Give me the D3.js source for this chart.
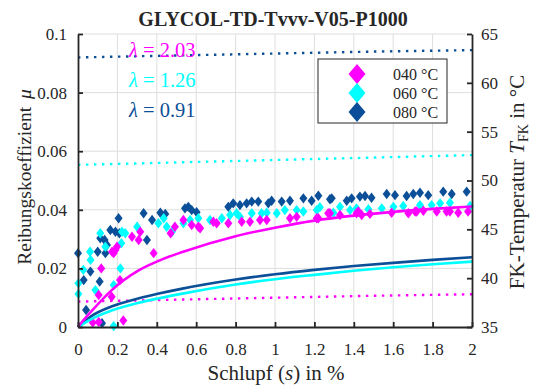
<!DOCTYPE html>
<html>
<head>
<meta charset="utf-8">
<script src="https://cdn.jsdelivr.net/npm/d3@7"></script>
<style>
  body { margin: 0; background: #fff; }
  text { font-family: "Liberation Serif", "Times New Roman", serif; fill: #262626; }
</style>
</head>
<body>
<svg id="chart" width="533" height="388"></svg>
<script>
// ---- axis ticks ----
const slipTicks = [0, 0.2, 0.4, 0.6, 0.8, 1, 1.2, 1.4, 1.6, 1.8, 2];
const muTicks = [0, 0.02, 0.04, 0.06, 0.08, 0.1];
const tempTicks = [35, 40, 45, 50, 55, 60, 65];

// ---- measured friction coefficients (slip in %, mu) ----
const slip040 = [0.075, 0.105, 0.105, 0.118, 0.171, 0.173, 0.181, 0.190, 0.198, 0.213, 0.230, 0.274, 0.308, 0.316, 0.384,
  0.470, 0.492, 0.535, 0.577, 0.611, 0.620, 0.687, 0.704, 0.763, 0.831, 0.873, 0.924, 0.958, 1.076, 1.110,
  1.212, 1.220, 1.270, 1.279, 1.330, 1.414, 1.423, 1.440, 1.482, 1.592, 1.677, 1.711, 1.719, 1.753, 1.821,
  1.871, 1.888, 1.930, 1.980];
const mu040 = [0.0015, 0.0017, 0.0109, 0.0200, 0.0103, 0.0257, 0.0252, 0.0263, 0.0274, 0.0160, 0.0022, 0.0308, 0.0297, 0.0325, 0.0252,
  0.0320, 0.0342, 0.0365, 0.0348, 0.0342, 0.0337, 0.0359, 0.0354, 0.0354, 0.0359, 0.0359, 0.0365, 0.0365, 0.0371, 0.0376,
  0.0371, 0.0371, 0.0388, 0.0388, 0.0382, 0.0388, 0.0394, 0.0382, 0.0386, 0.0390, 0.0388, 0.0394, 0.0394, 0.0397, 0.0394,
  0.0394, 0.0394, 0.0390, 0.0394];

const slip060 = [0.002, 0.002, 0.027, 0.061, 0.064, 0.088, 0.113, 0.139, 0.181, 0.181, 0.215, 0.220, 0.223, 0.240, 0.300,
  0.408, 0.435, 0.450, 0.477, 0.535, 0.569, 0.611, 0.670, 0.730, 0.772, 0.805, 0.822, 0.882, 0.932, 0.958,
  1.009, 1.050, 1.110, 1.144, 1.212, 1.228, 1.296, 1.330, 1.381, 1.414, 1.474, 1.542, 1.601, 1.651, 1.736,
  1.795, 1.838, 1.888, 1.990];
const mu060 = [0.0149, 0.0113, 0.0195, 0.0257, 0.0229, 0.0126, 0.0320, 0.0274, 0.0143, 0.0003, 0.0200, 0.0286, 0.0325, 0.0320, 0.0342,
  0.0354, 0.0371, 0.0342, 0.0325, 0.0354, 0.0365, 0.0371, 0.0365, 0.0371, 0.0382, 0.0388, 0.0376, 0.0388, 0.0388, 0.0390,
  0.0388, 0.0399, 0.0399, 0.0394, 0.0399, 0.0409, 0.0390, 0.0410, 0.0399, 0.0405, 0.0402, 0.0405, 0.0410, 0.0413, 0.0416,
  0.0416, 0.0422, 0.0424, 0.0413];

const slip080 = [0.000, 0.029, 0.041, 0.063, 0.100, 0.110, 0.113, 0.122, 0.135, 0.139, 0.147, 0.164, 0.190, 0.206, 0.210,
  0.333, 0.350, 0.376, 0.418, 0.443, 0.543, 0.560, 0.577, 0.602, 0.763, 0.788, 0.822, 0.856, 0.882, 0.915,
  0.966, 0.983, 1.034, 1.076, 1.144, 1.186, 1.220, 1.279, 1.288, 1.364, 1.389, 1.431, 1.457, 1.490, 1.567,
  1.609, 1.668, 1.702, 1.736, 1.778, 1.854, 1.897, 1.973];
const mu080 = [0.0252, 0.0160, 0.0058, 0.0189, 0.0257, 0.0155, 0.0303, 0.0013, 0.0297, 0.0252, 0.0280, 0.0331, 0.0325, 0.0371, 0.0320,
  0.0388, 0.0297, 0.0365, 0.0390, 0.0386, 0.0405, 0.0410, 0.0399, 0.0392, 0.0410, 0.0422, 0.0416, 0.0422, 0.0428, 0.0428,
  0.0422, 0.0431, 0.0428, 0.0431, 0.0439, 0.0431, 0.0448, 0.0436, 0.0439, 0.0431, 0.0439, 0.0445, 0.0447, 0.0441, 0.0454,
  0.0450, 0.0447, 0.0454, 0.0458, 0.0450, 0.0462, 0.0454, 0.0462];

// ---- fitted friction curves ----
const fitSlip = [0, 0.02, 0.07, 0.17, 0.31, 0.41, 0.53, 0.8, 1.0, 1.2, 1.4, 1.6, 1.8, 2.0];
const fit040 = [0, 0.0017, 0.0055, 0.0125, 0.0194, 0.0226, 0.0256, 0.0310, 0.0339, 0.0363, 0.0380, 0.0393, 0.0403, 0.0411];
const fit060 = [0, 0.0008, 0.0028, 0.0056, 0.0083, 0.0098, 0.0114, 0.0145, 0.0163, 0.0178, 0.0192, 0.0204, 0.0214, 0.0223];
const fit080 = [0, 0.0012, 0.0038, 0.0070, 0.0098, 0.0114, 0.0131, 0.0162, 0.0180, 0.0195, 0.0208, 0.0219, 0.0229, 0.0238];

// ---- fluid temperature (right axis, °C) ----
const tempSlip = [0, 0.5, 1.0, 1.5, 2.0];
const temp040 = [37.6, 37.8, 38.0, 38.2, 38.35];
const temp060 = [51.6, 51.85, 52.1, 52.35, 52.6];
const temp080 = [62.6, 62.8, 63.0, 63.2, 63.35];

// ---- series labels ----
const seriesNames = ["040 °C", "060 °C", "080 °C"];
const lambdaValues = ["2.03", "1.26", "0.91"];
const colors = ["#ff00ff", "#00ffff", "#0b4f98"];

const svg = d3.select("#chart");
const L = 78, R = 472, T = 34, B = 327;

const x = d3.scaleLinear().domain([0, 2]).range([L, R]);
const y = d3.scaleLinear().domain([0, 0.1]).range([B, T]);
const yT = d3.scaleLinear().domain([35, 65]).range([B, T]);

// grid
const grid = svg.append("g").attr("stroke", "#dedede").attr("stroke-width", 1);
grid.selectAll("line.v").data(slipTicks.slice(1, -1)).join("line")
  .attr("x1", d => x(d)).attr("x2", d => x(d)).attr("y1", T).attr("y2", B);
grid.selectAll("line.h").data(muTicks.slice(1)).join("line")
  .attr("x1", L).attr("x2", R).attr("y1", d => y(d)).attr("y2", d => y(d));

// dotted temperature lines
const tempSeries = [temp040, temp060, temp080];
const tLine = d3.line().x(d => x(d[0])).y(d => yT(d[1]));
tempSeries.forEach((ts, i) => {
  svg.append("path")
    .datum(tempSlip.map((s, j) => [s, ts[j]]))
    .attr("d", tLine)
    .attr("fill", "none")
    .attr("stroke", colors[i])
    .attr("stroke-width", 2.4)
    .attr("stroke-dasharray", "2.4,5.6");
});

// scatter diamonds
const diamond = (w, h) => `M0,${-h}L${w},0L0,${h}L${-w},0Z`;
const scatter = [[slip080, mu080, 2], [slip060, mu060, 1], [slip040, mu040, 0]];
scatter.forEach(([xs, ys, ci]) => {
  svg.append("g").selectAll("path")
    .data(xs.map((s, j) => [s, ys[j]]))
    .join("path")
    .attr("transform", d => `translate(${x(d[0])},${y(d[1])})`)
    .attr("d", diamond(4, 5.2))
    .attr("fill", colors[ci]);
});

// fitted curves
const fits = [fit080, fit060, fit040];
const fitColors = [colors[2], colors[1], colors[0]];
const fLine = d3.line().x(d => x(d[0])).y(d => y(d[1])).curve(d3.curveMonotoneX);
fits.forEach((f, i) => {
  svg.append("path")
    .datum(fitSlip.map((s, j) => [s, f[j]]))
    .attr("d", fLine)
    .attr("fill", "none")
    .attr("stroke", fitColors[i])
    .attr("stroke-width", 2.6);
});

// axes
const axisStyle = g => {
  g.select(".domain").attr("stroke", "#262626").attr("stroke-width", 1.8);
  g.selectAll(".tick line").attr("stroke", "#262626").attr("stroke-width", 1.8);
  g.selectAll(".tick text").attr("font-family", "Liberation Serif, serif")
    .attr("font-size", 17).attr("fill", "#262626");
};
svg.append("g").attr("transform", `translate(0,${B})`)
  .call(d3.axisBottom(x).tickValues(slipTicks).tickFormat(d3.format("~g"))
    .tickSize(-5).tickSizeOuter(0).tickPadding(16))
  .call(axisStyle);
svg.append("g").attr("transform", `translate(${L},0)`)
  .call(d3.axisLeft(y).tickValues(muTicks).tickFormat(d3.format("~g"))
    .tickSize(-5).tickSizeOuter(0).tickPadding(11))
  .call(axisStyle);
svg.append("g").attr("transform", `translate(${R},0)`)
  .call(d3.axisRight(yT).tickValues(tempTicks)
    .tickSize(-5).tickSizeOuter(0).tickPadding(9))
  .call(axisStyle);

// title
svg.append("text").attr("x", 273).attr("y", 26).attr("text-anchor", "middle")
  .attr("font-size", 20).attr("font-weight", "bold").attr("fill", "#000")
  .text("GLYCOL-TD-Tvvv-V05-P1000");

// axis labels
svg.append("text").attr("x", 276).attr("y", 380).attr("text-anchor", "middle")
  .attr("font-size", 21)
  .call(t => {
    t.append("tspan").text("Schlupf (");
    t.append("tspan").attr("font-style", "italic").text("s");
    t.append("tspan").text(") in %");
  });
svg.append("text").attr("transform", "translate(31,177) rotate(-90)")
  .attr("text-anchor", "middle").attr("font-size", 19.5)
  .call(t => {
    t.append("tspan").text("Reibungskoeffizient ");
    t.append("tspan").attr("dx", 3).attr("font-style", "italic").text("μ");
  });
svg.append("text").attr("transform", "translate(524,182) rotate(-90)")
  .attr("text-anchor", "middle").attr("font-size", 21)
  .call(t => {
    t.append("tspan").text("FK-Temperatur ");
    t.append("tspan").attr("font-style", "italic").text("T");
    t.append("tspan").attr("dy", 4).attr("font-size", 14).text("FK");
    t.append("tspan").attr("dy", -4).text(" in °C");
  });

// lambda annotations
const lamY = [57, 87, 117];
lambdaValues.forEach((v, i) => {
  svg.append("text").attr("x", 129).attr("y", lamY[i])
    .attr("font-family", "Liberation Sans, Arial, sans-serif")
    .attr("font-size", 20.5).style("fill", colors[i])
    .call(t => {
      t.append("tspan").attr("font-style", "italic").text("λ");
      t.append("tspan").text(" = " + v);
    });
});

// legend
const lg = svg.append("g");
lg.append("rect").attr("x", 318).attr("y", 59).attr("width", 129).attr("height", 64)
  .attr("fill", "#fff").attr("stroke", "#262626").attr("stroke-width", 1);
const legY = [74, 93, 112];
seriesNames.forEach((name, i) => {
  lg.append("path").attr("transform", `translate(357,${legY[i]})`)
    .attr("d", diamond(8.5, 10)).attr("fill", colors[i]);
  lg.append("text").attr("x", 393).attr("y", legY[i] + 5.5)
    .attr("font-size", 16).text(name);
});
</script>
</body>
</html>
